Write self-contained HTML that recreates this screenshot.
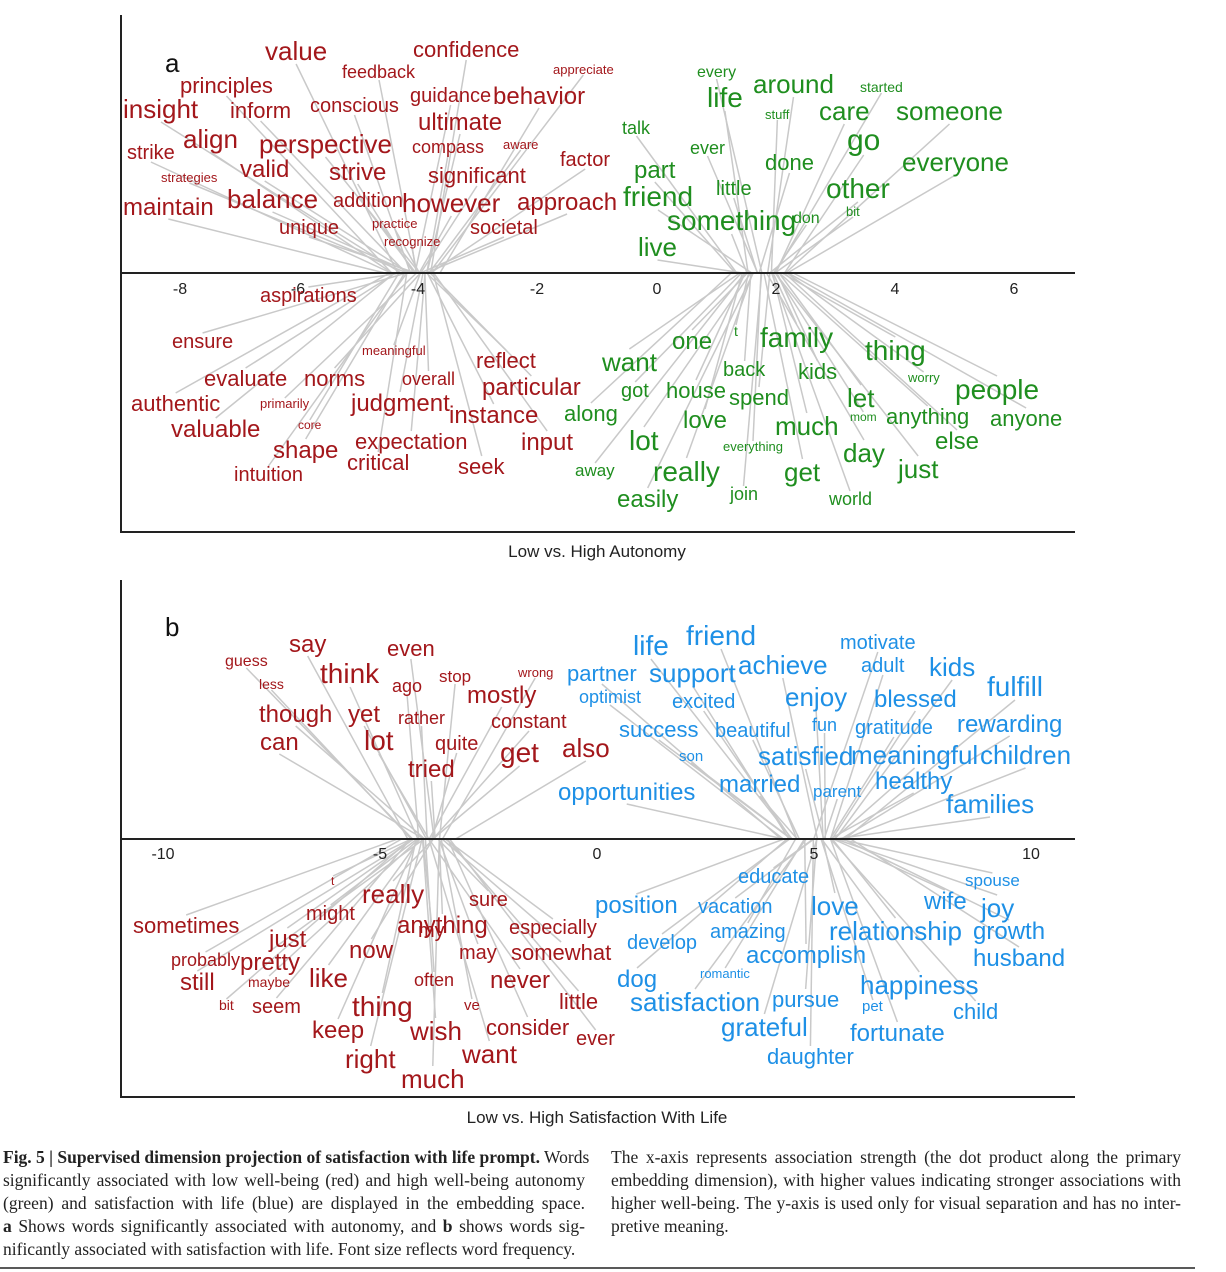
<!DOCTYPE html>
<html><head><meta charset="utf-8"><style>
body{margin:0;background:#fff;width:1226px;height:1272px;overflow:hidden}
svg{position:absolute;left:0;top:0}
text{font-family:"Liberation Sans","DejaVu Sans",sans-serif}
.r{fill:#a3171b}.g{fill:#1f8e1f}.b{fill:#1e90e6}
.t{fill:#222;font-size:16px}
.cap{position:absolute;font-family:"Liberation Serif",serif;font-size:17.5px;line-height:23px;color:#222;top:1146px}
.cap div{text-align:justify;text-align-last:justify;white-space:nowrap}
.cap div.l{text-align-last:left}
</style></head><body>
<svg width="1226" height="1272" viewBox="0 0 1226 1272">
<g id="lines" stroke="#c9c9c9" stroke-width="1.5"></g>
<g stroke="#222" stroke-width="2" fill="none">
<polyline points="121,15 121,532 1075,532"/>
<line x1="121" y1="273" x2="1075" y2="273"/>
<polyline points="121,580 121,1097 1075,1097"/>
<line x1="121" y1="839" x2="1075" y2="839"/>
</g>
<g class="t" font-size="16">
<text x="180" y="294" text-anchor="middle">-8</text><text x="298" y="294" text-anchor="middle">-6</text><text x="418" y="294" text-anchor="middle">-4</text><text x="537" y="294" text-anchor="middle">-2</text><text x="657" y="294" text-anchor="middle">0</text><text x="776" y="294" text-anchor="middle">2</text><text x="895" y="294" text-anchor="middle">4</text><text x="1014" y="294" text-anchor="middle">6</text>
<text x="163" y="859" text-anchor="middle">-10</text><text x="380" y="859" text-anchor="middle">-5</text><text x="597" y="859" text-anchor="middle">0</text><text x="814" y="859" text-anchor="middle">5</text><text x="1031" y="859" text-anchor="middle">10</text>
<text x="597" y="557" text-anchor="middle" font-size="17">Low vs. High Autonomy</text>
<text x="597" y="1123" text-anchor="middle" font-size="17">Low vs. High Satisfaction With Life</text>
</g>
<text x="165" y="72" font-size="26" fill="#111">a</text>
<text x="165" y="636" font-size="26" fill="#111">b</text>
<g id="pa" data-y="273">
<text class="r" x="265" y="60" font-size="26">value</text>
<text class="r" x="413" y="57" font-size="22">confidence</text>
<text class="r" x="342" y="78" font-size="18">feedback</text>
<text class="r" x="553" y="74" font-size="13">appreciate</text>
<text class="r" x="180" y="93" font-size="22">principles</text>
<text class="r" x="123" y="118" font-size="26">insight</text>
<text class="r" x="230" y="118" font-size="22">inform</text>
<text class="r" x="310" y="112" font-size="20">conscious</text>
<text class="r" x="410" y="102" font-size="20">guidance</text>
<text class="r" x="493" y="104" font-size="24">behavior</text>
<text class="r" x="418" y="130" font-size="24">ultimate</text>
<text class="r" x="127" y="159" font-size="20">strike</text>
<text class="r" x="183" y="148" font-size="26">align</text>
<text class="r" x="259" y="153" font-size="26">perspective</text>
<text class="r" x="412" y="153" font-size="18">compass</text>
<text class="r" x="503" y="149" font-size="13">aware</text>
<text class="r" x="560" y="166" font-size="20">factor</text>
<text class="r" x="161" y="182" font-size="13">strategies</text>
<text class="r" x="240" y="177" font-size="24">valid</text>
<text class="r" x="329" y="180" font-size="24">strive</text>
<text class="r" x="428" y="183" font-size="22">significant</text>
<text class="r" x="123" y="215" font-size="24">maintain</text>
<text class="r" x="227" y="208" font-size="26">balance</text>
<text class="r" x="333" y="207" font-size="20">addition</text>
<text class="r" x="402" y="212" font-size="26">however</text>
<text class="r" x="517" y="210" font-size="24">approach</text>
<text class="r" x="279" y="234" font-size="20">unique</text>
<text class="r" x="372" y="228" font-size="13">practice</text>
<text class="r" x="384" y="246" font-size="13">recognize</text>
<text class="r" x="470" y="234" font-size="20">societal</text>
<text class="g" x="697" y="77" font-size="16">every</text>
<text class="g" x="753" y="93" font-size="26">around</text>
<text class="g" x="860" y="92" font-size="14">started</text>
<text class="g" x="707" y="107" font-size="28">life</text>
<text class="g" x="765" y="119" font-size="13">stuff</text>
<text class="g" x="819" y="120" font-size="26">care</text>
<text class="g" x="896" y="120" font-size="26">someone</text>
<text class="g" x="622" y="134" font-size="18">talk</text>
<text class="g" x="847" y="150" font-size="30">go</text>
<text class="g" x="690" y="154" font-size="18">ever</text>
<text class="g" x="902" y="171" font-size="26">everyone</text>
<text class="g" x="765" y="170" font-size="22">done</text>
<text class="g" x="634" y="178" font-size="24">part</text>
<text class="g" x="623" y="206" font-size="28">friend</text>
<text class="g" x="716" y="195" font-size="20">little</text>
<text class="g" x="826" y="198" font-size="28">other</text>
<text class="g" x="667" y="230" font-size="28">something</text>
<text class="g" x="793" y="223" font-size="16">don</text>
<text class="g" x="846" y="216" font-size="13">bit</text>
<text class="g" x="638" y="256" font-size="26">live</text>
<text class="r" x="260" y="302" font-size="20">aspirations</text>
<text class="r" x="172" y="348" font-size="20">ensure</text>
<text class="r" x="362" y="355" font-size="13">meaningful</text>
<text class="r" x="476" y="368" font-size="22">reflect</text>
<text class="r" x="204" y="386" font-size="22">evaluate</text>
<text class="r" x="304" y="386" font-size="22">norms</text>
<text class="r" x="402" y="385" font-size="18">overall</text>
<text class="r" x="482" y="395" font-size="24">particular</text>
<text class="r" x="131" y="411" font-size="22">authentic</text>
<text class="r" x="260" y="408" font-size="13">primarily</text>
<text class="r" x="351" y="411" font-size="24">judgment</text>
<text class="r" x="449" y="423" font-size="24">instance</text>
<text class="r" x="171" y="437" font-size="24">valuable</text>
<text class="r" x="298" y="429" font-size="12">core</text>
<text class="r" x="355" y="449" font-size="22">expectation</text>
<text class="r" x="521" y="450" font-size="24">input</text>
<text class="r" x="273" y="458" font-size="24">shape</text>
<text class="r" x="347" y="470" font-size="22">critical</text>
<text class="r" x="458" y="474" font-size="22">seek</text>
<text class="r" x="234" y="481" font-size="20">intuition</text>
<text class="g" x="672" y="349" font-size="24">one</text>
<text class="g" x="734" y="336" font-size="14">t</text>
<text class="g" x="760" y="347" font-size="28">family</text>
<text class="g" x="865" y="360" font-size="28">thing</text>
<text class="g" x="602" y="371" font-size="26">want</text>
<text class="g" x="723" y="376" font-size="20">back</text>
<text class="g" x="798" y="379" font-size="22">kids</text>
<text class="g" x="908" y="382" font-size="13">worry</text>
<text class="g" x="621" y="397" font-size="20">got</text>
<text class="g" x="666" y="398" font-size="22">house</text>
<text class="g" x="729" y="405" font-size="22">spend</text>
<text class="g" x="847" y="407" font-size="26">let</text>
<text class="g" x="955" y="399" font-size="28">people</text>
<text class="g" x="564" y="421" font-size="22">along</text>
<text class="g" x="683" y="428" font-size="24">love</text>
<text class="g" x="775" y="435" font-size="26">much</text>
<text class="g" x="850" y="421" font-size="12">mom</text>
<text class="g" x="886" y="424" font-size="22">anything</text>
<text class="g" x="990" y="426" font-size="22">anyone</text>
<text class="g" x="629" y="450" font-size="28">lot</text>
<text class="g" x="723" y="451" font-size="13">everything</text>
<text class="g" x="935" y="449" font-size="24">else</text>
<text class="g" x="843" y="462" font-size="26">day</text>
<text class="g" x="575" y="476" font-size="17">away</text>
<text class="g" x="653" y="481" font-size="28">really</text>
<text class="g" x="784" y="481" font-size="26">get</text>
<text class="g" x="898" y="478" font-size="26">just</text>
<text class="g" x="617" y="507" font-size="24">easily</text>
<text class="g" x="730" y="500" font-size="18">join</text>
<text class="g" x="829" y="505" font-size="18">world</text>
</g>
<g id="pb" data-y="839">
<text class="r" x="289" y="652" font-size="24">say</text>
<text class="r" x="387" y="656" font-size="22">even</text>
<text class="r" x="225" y="666" font-size="16">guess</text>
<text class="r" x="320" y="683" font-size="28">think</text>
<text class="r" x="392" y="692" font-size="18">ago</text>
<text class="r" x="439" y="682" font-size="17">stop</text>
<text class="r" x="518" y="677" font-size="13">wrong</text>
<text class="r" x="259" y="689" font-size="14">less</text>
<text class="r" x="467" y="703" font-size="24">mostly</text>
<text class="r" x="259" y="722" font-size="24">though</text>
<text class="r" x="348" y="722" font-size="24">yet</text>
<text class="r" x="398" y="724" font-size="18">rather</text>
<text class="r" x="491" y="728" font-size="20">constant</text>
<text class="r" x="260" y="750" font-size="24">can</text>
<text class="r" x="364" y="750" font-size="28">lot</text>
<text class="r" x="435" y="750" font-size="20">quite</text>
<text class="r" x="500" y="762" font-size="28">get</text>
<text class="r" x="562" y="757" font-size="26">also</text>
<text class="r" x="408" y="777" font-size="24">tried</text>
<text class="b" x="633" y="655" font-size="28">life</text>
<text class="b" x="686" y="645" font-size="28">friend</text>
<text class="b" x="840" y="649" font-size="20">motivate</text>
<text class="b" x="861" y="672" font-size="20">adult</text>
<text class="b" x="929" y="676" font-size="26">kids</text>
<text class="b" x="567" y="681" font-size="22">partner</text>
<text class="b" x="649" y="682" font-size="26">support</text>
<text class="b" x="738" y="674" font-size="26">achieve</text>
<text class="b" x="987" y="696" font-size="28">fulfill</text>
<text class="b" x="579" y="703" font-size="18">optimist</text>
<text class="b" x="672" y="708" font-size="20">excited</text>
<text class="b" x="785" y="706" font-size="26">enjoy</text>
<text class="b" x="874" y="707" font-size="24">blessed</text>
<text class="b" x="619" y="737" font-size="22">success</text>
<text class="b" x="715" y="737" font-size="20">beautiful</text>
<text class="b" x="812" y="731" font-size="18">fun</text>
<text class="b" x="855" y="734" font-size="20">gratitude</text>
<text class="b" x="957" y="732" font-size="24">rewarding</text>
<text class="b" x="679" y="761" font-size="15">son</text>
<text class="b" x="758" y="765" font-size="26">satisfied</text>
<text class="b" x="851" y="764" font-size="26">meaningful</text>
<text class="b" x="980" y="764" font-size="26">children</text>
<text class="b" x="558" y="800" font-size="24">opportunities</text>
<text class="b" x="719" y="792" font-size="24">married</text>
<text class="b" x="813" y="797" font-size="17">parent</text>
<text class="b" x="875" y="789" font-size="24">healthy</text>
<text class="b" x="946" y="813" font-size="26">families</text>
<text class="r" x="331" y="885" font-size="12">t</text>
<text class="r" x="362" y="903" font-size="26">really</text>
<text class="r" x="469" y="906" font-size="20">sure</text>
<text class="r" x="306" y="920" font-size="20">might</text>
<text class="r" x="133" y="933" font-size="22">sometimes</text>
<text class="r" x="397" y="933" font-size="24">anything</text>
<text class="r" x="509" y="934" font-size="20">especially</text>
<text class="r" x="269" y="947" font-size="24">just</text>
<text class="r" x="418" y="937" font-size="20">my</text>
<text class="r" x="349" y="958" font-size="24">now</text>
<text class="r" x="459" y="959" font-size="20">may</text>
<text class="r" x="511" y="960" font-size="22">somewhat</text>
<text class="r" x="171" y="966" font-size="18">probably</text>
<text class="r" x="240" y="970" font-size="24">pretty</text>
<text class="r" x="248" y="987" font-size="14">maybe</text>
<text class="r" x="309" y="987" font-size="26">like</text>
<text class="r" x="414" y="986" font-size="18">often</text>
<text class="r" x="490" y="988" font-size="24">never</text>
<text class="r" x="180" y="990" font-size="24">still</text>
<text class="r" x="219" y="1010" font-size="14">bit</text>
<text class="r" x="252" y="1013" font-size="20">seem</text>
<text class="r" x="352" y="1016" font-size="28">thing</text>
<text class="r" x="464" y="1010" font-size="15">ve</text>
<text class="r" x="559" y="1009" font-size="22">little</text>
<text class="r" x="312" y="1038" font-size="24">keep</text>
<text class="r" x="410" y="1040" font-size="26">wish</text>
<text class="r" x="486" y="1035" font-size="22">consider</text>
<text class="r" x="576" y="1045" font-size="20">ever</text>
<text class="r" x="345" y="1068" font-size="26">right</text>
<text class="r" x="462" y="1063" font-size="26">want</text>
<text class="r" x="401" y="1088" font-size="26">much</text>
<text class="b" x="738" y="883" font-size="20">educate</text>
<text class="b" x="965" y="886" font-size="17">spouse</text>
<text class="b" x="595" y="913" font-size="24">position</text>
<text class="b" x="698" y="913" font-size="20">vacation</text>
<text class="b" x="811" y="915" font-size="26">love</text>
<text class="b" x="924" y="909" font-size="24">wife</text>
<text class="b" x="981" y="917" font-size="26">joy</text>
<text class="b" x="710" y="938" font-size="20">amazing</text>
<text class="b" x="829" y="940" font-size="26">relationship</text>
<text class="b" x="973" y="939" font-size="24">growth</text>
<text class="b" x="627" y="949" font-size="20">develop</text>
<text class="b" x="746" y="963" font-size="24">accomplish</text>
<text class="b" x="973" y="966" font-size="24">husband</text>
<text class="b" x="700" y="978" font-size="13">romantic</text>
<text class="b" x="617" y="987" font-size="24">dog</text>
<text class="b" x="860" y="994" font-size="26">happiness</text>
<text class="b" x="630" y="1011" font-size="26">satisfaction</text>
<text class="b" x="772" y="1007" font-size="22">pursue</text>
<text class="b" x="862" y="1011" font-size="15">pet</text>
<text class="b" x="953" y="1019" font-size="22">child</text>
<text class="b" x="721" y="1036" font-size="26">grateful</text>
<text class="b" x="850" y="1041" font-size="24">fortunate</text>
<text class="b" x="767" y="1064" font-size="22">daughter</text>
</g>
<line x1="0" y1="1268" x2="1195" y2="1268" stroke="#222" stroke-width="1.5"/>
</svg>
<div class="cap" style="left:3px;width:582px">
<div><b>Fig. 5 | Supervised dimension projection of satisfaction with life prompt.</b> Words</div>
<div>significantly associated with low well-being (red) and high well-being autonomy</div>
<div>(green) and satisfaction with life (blue) are displayed in the embedding space.</div>
<div><b>a</b> Shows words significantly associated with autonomy, and <b>b</b> shows words sig-</div>
<div class="l">nificantly associated with satisfaction with life. Font size reflects word frequency.</div>
</div>
<div class="cap" style="left:611px;width:570px">
<div>The x-axis represents association strength (the dot product along the primary</div>
<div>embedding dimension), with higher values indicating stronger associations with</div>
<div>higher well-being. The y-axis is used only for visual separation and has no inter-</div>
<div class="l">pretive meaning.</div>
</div>
<script>
(function(){
var L=document.getElementById('lines'),ns='http://www.w3.org/2000/svg';
[['pa',420,760],['pb',430,815]].forEach(function(p){
var g=document.getElementById(p[0]),ay=+g.getAttribute('data-y');
var ts=g.getElementsByTagName('text');
for(var i=0;i<ts.length;i++){var t=ts[i],b=t.getBBox(),cx=b.x+b.width/2;
var red=t.getAttribute('class')=='r',c=red?p[1]:p[2];
var tx=c+(cx-c)*(red?0.1:0.14)+((i*37)%21-10);
var sy=(b.y+b.height/2<ay)?b.y+b.height-2:b.y+2;
var l=document.createElementNS(ns,'line');
l.setAttribute('x1',cx);l.setAttribute('y1',sy);l.setAttribute('x2',tx);l.setAttribute('y2',ay);L.appendChild(l);}
});})();
</script>
</body></html>
